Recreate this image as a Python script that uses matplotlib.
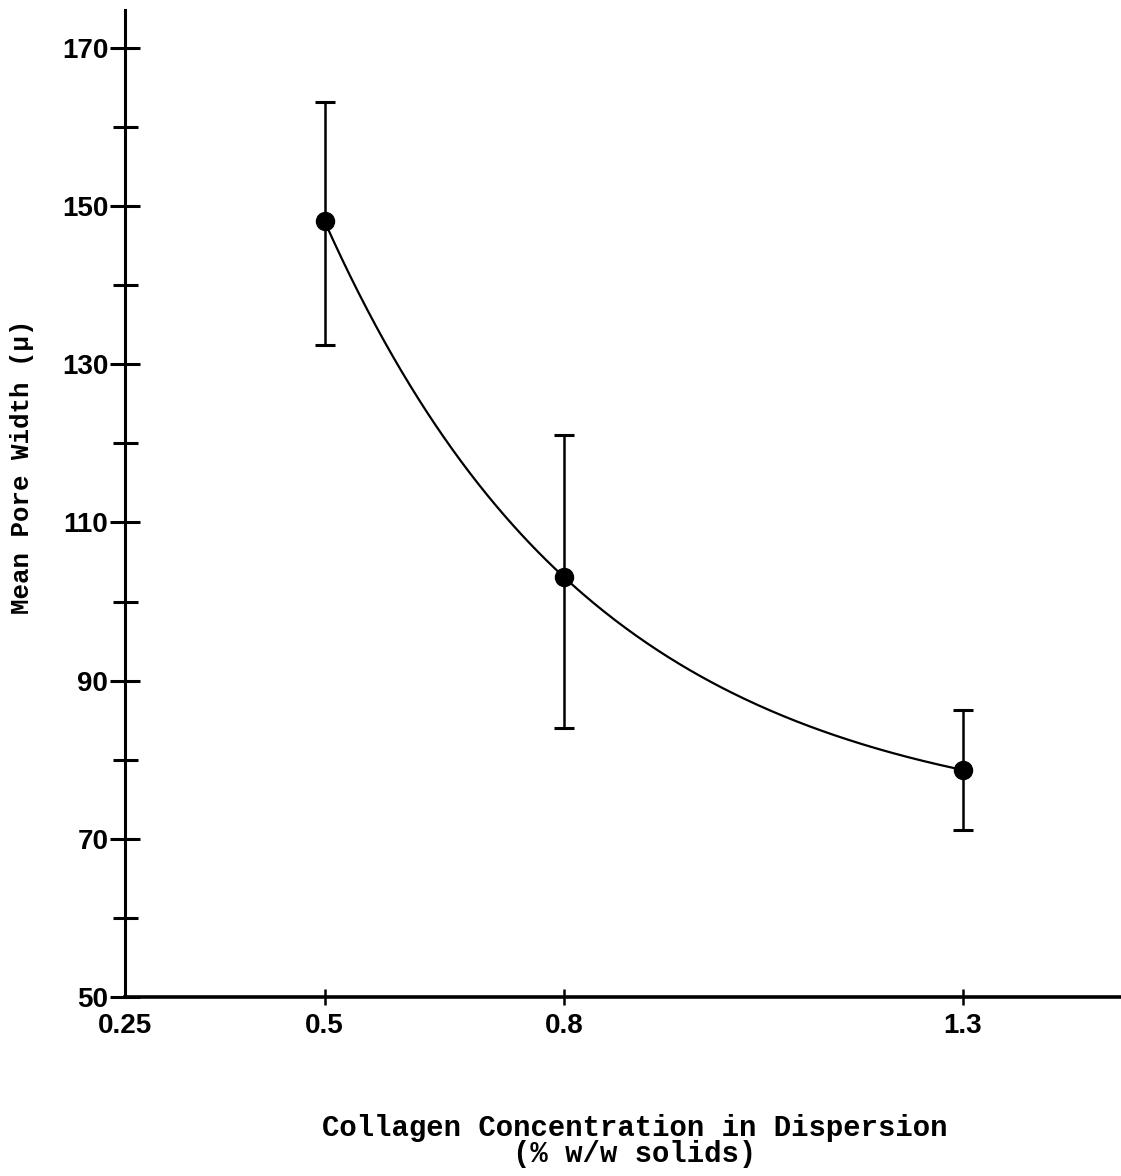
import numpy as np
import matplotlib
matplotlib.use("Agg")
import matplotlib.pyplot as plt

# Data
concentration = [0.5, 0.8, 1.3]
pore_width = [148.1, 103.1, 78.7]
err_upper = [163.2, 121.1, 86.3]
err_lower = [132.5, 84.0, 71.1]
x_ticks = [0.25, 0.5, 0.8, 1.3]
x_ticklabels = ["0.25", "0.5", "0.8", "1.3"]
y_major = [50, 70, 90, 110, 130, 150, 170]
y_minor = [60, 80, 100, 120, 140, 160]

x = np.array(concentration)
y = np.array(pore_width)
yerr = np.array([y - np.array(err_lower), np.array(err_upper) - y])

# Smooth fitted curve y = a + b*exp(-c x) through the three means
def resid(c):
    e = np.exp(-c * x)
    b = (y[0] - y[1]) / (e[0] - e[1])
    a = y[0] - b * e[0]
    return a + b * e[2] - y[2], a, b
lo, hi = 0.01, 20.0
for _ in range(200):
    mid = 0.5 * (lo + hi)
    if resid(lo)[0] * resid(mid)[0] <= 0:
        hi = mid
    else:
        lo = mid
c = 0.5 * (lo + hi)
_, a, b = resid(c)
xs = np.linspace(x[0], x[-1], 300)
ys = a + b * np.exp(-c * xs)

fig = plt.figure(figsize=(11.21, 11.76), dpi=100)
ax = fig.add_axes([125 / 1121, 1 - 997 / 1176, 1 - 125 / 1121, (997 - 10) / 1176])

ax.plot(xs, ys, color="black", lw=1.6, zorder=2)
ax.errorbar(x, y, yerr=yerr, fmt="o", color="black", ms=13, elinewidth=1.8,
            capsize=7, capthick=2.2, zorder=3)

ax.set_xlim(0.25, 1.498)
ax.set_ylim(50, 174.8)

for s in ["top", "right"]:
    ax.spines[s].set_visible(False)
ax.spines["left"].set_linewidth(2.2)
ax.spines["bottom"].set_linewidth(2.6)

tick_font = dict(fontsize=20, fontweight="bold", family="Liberation Sans")
ax.set_xticks(x_ticks[1:])
ax.set_xticklabels(x_ticklabels[1:], **tick_font)
ax.tick_params(axis="x", direction="inout", length=11, width=1.8, pad=6)
ax.text(0.25, -0.0165, x_ticklabels[0], transform=ax.get_xaxis_transform(),
        ha="center", va="top", **tick_font)

ax.set_yticks(y_major)
ax.set_yticklabels([str(v) for v in y_major], **tick_font)
ax.set_yticks(y_minor, minor=True)
ax.tick_params(axis="y", which="major", direction="inout", length=22, width=2.2, pad=1)
ax.tick_params(axis="y", which="minor", direction="inout", length=18, width=2.2)

fig.text(635 / 1121, 1 - 1141 / 1176, "Collagen Concentration in Dispersion\n(% w/w solids)",
         ha="center", va="center", fontsize=20.9, family="Liberation Mono",
         fontweight="bold", linespacing=0.95)
fig.text(22 / 1121, 1 - 467 / 1176, "Mean Pore Width (\u03bc)", rotation=90,
         ha="center", va="center", fontsize=18.5, family="Liberation Mono",
         fontweight="bold")

fig.savefig("out.png", dpi=100)
